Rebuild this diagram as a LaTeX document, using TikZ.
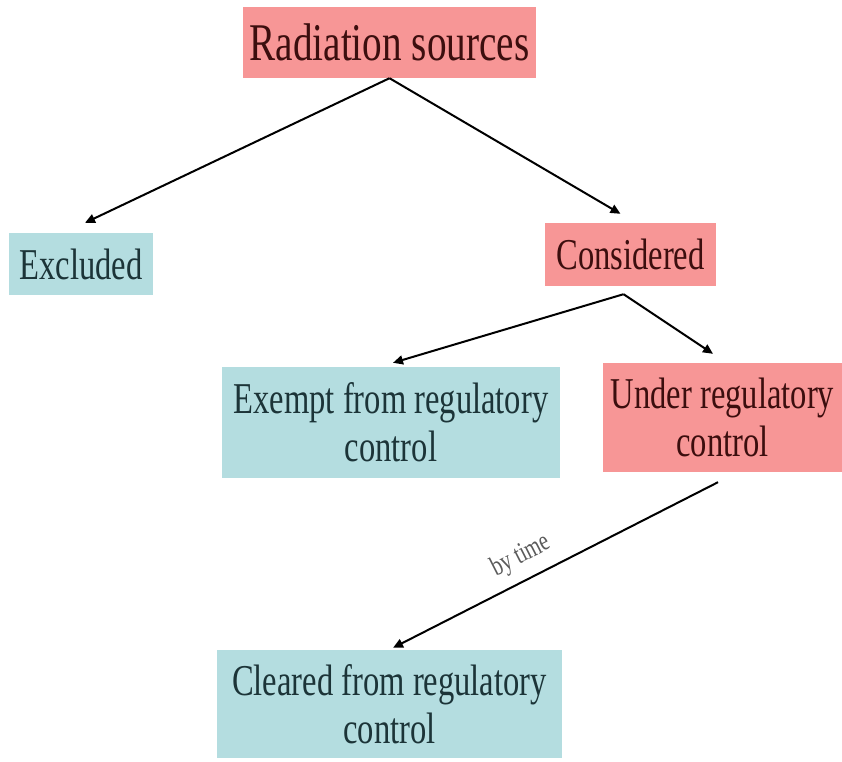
\documentclass[tikz,border=0pt]{standalone}
\usepackage{fontspec}
\setmainfont{Liberation Serif}[FakeStretch=0.74]
\usetikzlibrary{arrows.meta}
\definecolor{pinkbox}{RGB}{247,150,150}
\definecolor{bluebox}{RGB}{180,221,224}
\definecolor{pinktext}{RGB}{60,14,14}
\definecolor{bluetext}{RGB}{28,52,56}
\definecolor{labelgrey}{RGB}{90,90,90}
\tikzset{
  box/.style={inner sep=0pt, align=center, font=\fontsize{44}{48}\selectfont},
  pinkb/.style={box, fill=pinkbox, text=pinktext},
  blueb/.style={box, fill=bluebox, text=bluetext},
  conn/.style={line width=2pt, -{Triangle[length=10pt,width=9pt]}},
}
\begin{document}
\begin{tikzpicture}[x=1pt,y=-1pt]
\useasboundingbox (0,0) rectangle (842,761);
\node[pinkb, minimum width=293pt, minimum height=71pt, font=\fontsize{53}{56}\selectfont] (rad) at (389.5,42.5) {Radiation sources};
\node[blueb, minimum width=144pt, minimum height=62pt] (excl) at (81,264) {Excluded};
\node[pinkb, minimum width=171pt, minimum height=63pt] (cons) at (630.5,254.5) {Considered};
\node[blueb, minimum width=338pt, minimum height=111pt] (exempt) at (391,422.5) {Exempt from regulatory\\control};
\node[pinkb, minimum width=239pt, minimum height=109pt] (under) at (722.5,417.5) {Under regulatory\\control};
\node[blueb, minimum width=345pt, minimum height=108pt] (cleared) at (389.5,704) {Cleared from regulatory\\control};

\draw[conn] (rad.south) -- ([shift={(4,-10)}]excl.north);
\draw[conn] (rad.south) -- ([shift={(-10,-9)}]cons.north);
\draw[conn] ([shift={(-7,8)}]cons.south) -- ([shift={(2,-4)}]exempt.north);
\draw[conn] ([shift={(-7,8)}]cons.south) -- ([shift={(-9.5,-9)}]under.north);
\draw[conn] ([shift={(-4.5,10)}]under.south) -- ([shift={(3.5,-2)}]cleared.north);
\node[rotate=27, text=labelgrey, font=\fontsize{28}{30}\selectfont, inner sep=0pt] (bytime) at (521,556) {by time};
\end{tikzpicture}
\end{document}
